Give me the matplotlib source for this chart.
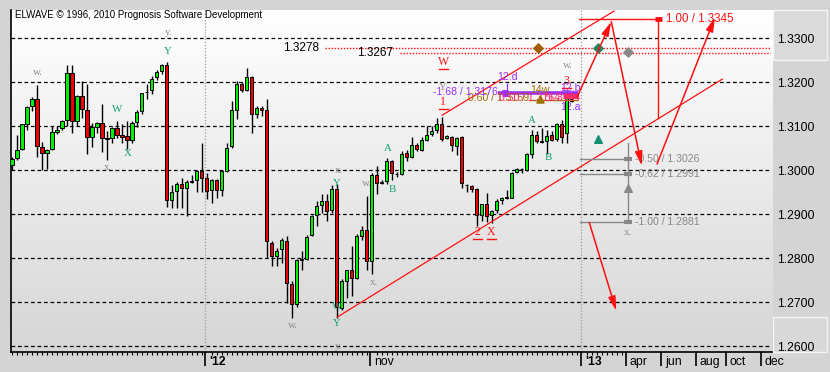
import numpy as np
import matplotlib
matplotlib.use('Agg')
import matplotlib.pyplot as plt
from matplotlib.colors import LinearSegmentedColormap
from matplotlib.patches import Rectangle
from matplotlib.transforms import offset_copy

# ---------------- data (daily candles, index units) ----------------
opens = [1.3011, 1.3027, 1.3048, 1.3105, 1.3145, 1.3163, 1.3053, 1.3040, 1.3048, 1.3087,
         1.3095, 1.3115, 1.3221, 1.3113, 1.3169, 1.3138, 1.3076, 1.3099, 1.3108, 1.3074,
         1.3073, 1.3095, 1.3079, 1.3077, 1.3069, 1.3110, 1.3134, 1.3178, 1.3182, 1.3211,
         1.3226, 1.3239, 1.2932, 1.2953, 1.2969, 1.2959, 1.2974, 1.2978, 1.2999, 1.2982,
         1.2954, 1.2977, 1.2954, 1.2999, 1.3054, 1.3138, 1.3195, 1.3183, 1.3211, 1.3127,
         1.3142, 1.3136, 1.2835, 1.2805, 1.2820, 1.2840, 1.2740, 1.2695, 1.2798, 1.2797,
         1.2852, 1.2898, 1.2920, 1.2931, 1.2909, 1.2958, 1.2687, 1.2749, 1.2772, 1.2754,
         1.2850, 1.2865, 1.2793, 1.2990, 1.2970, 1.2976, 1.3020, 1.2991, 1.2991, 1.3039,
         1.3031, 1.3058, 1.3047, 1.3069, 1.3082, 1.3092, 1.3105, 1.3073, 1.3075, 1.3054,
         1.3075, 1.2967, 1.2965, 1.2957, 1.2898, 1.2924, 1.2898, 1.2909, 1.2932, 1.2936,
         1.2937, 1.2995, 1.3003, 1.3001, 1.3037, 1.3079, 1.3067, 1.3067, 1.3079, 1.3072,
         1.3106, 1.3085, 1.3157]
highs = [1.3031, 1.3081, 1.3105, 1.3146, 1.3166, 1.3194, 1.3063, 1.3049, 1.3100, 1.3100,
         1.3115, 1.3240, 1.3240, 1.3170, 1.3203, 1.3197, 1.3108, 1.3110, 1.3150, 1.3090,
         1.3098, 1.3113, 1.3105, 1.3111, 1.3113, 1.3138, 1.3176, 1.3195, 1.3215, 1.3227,
         1.3241, 1.3247, 1.2966, 1.2973, 1.2983, 1.2978, 1.2989, 1.3001, 1.3062, 1.2993,
         1.2979, 1.2979, 1.3000, 1.3062, 1.3158, 1.3202, 1.3201, 1.3233, 1.3214, 1.3145,
         1.3145, 1.3163, 1.2839, 1.2823, 1.2846, 1.2850, 1.2748, 1.2797, 1.2817, 1.2852,
         1.2898, 1.2931, 1.2945, 1.2945, 1.2967, 1.2969, 1.2752, 1.2774, 1.2827, 1.2854,
         1.2873, 1.2941, 1.2994, 1.3009, 1.2978, 1.3027, 1.3024, 1.2997, 1.3044, 1.3047,
         1.3075, 1.3062, 1.3075, 1.3100, 1.3100, 1.3119, 1.3121, 1.3079, 1.3077, 1.3075,
         1.3077, 1.2969, 1.2966, 1.2959, 1.2924, 1.2947, 1.2909, 1.2934, 1.2940, 1.2955,
         1.2997, 1.3006, 1.3006, 1.3039, 1.3092, 1.3089, 1.3096, 1.3092, 1.3089, 1.3108,
         1.3115, 1.3180, 1.3165]
lows = [1.3001, 1.3024, 1.3047, 1.3092, 1.3134, 1.3030, 1.3001, 1.3003, 1.3047, 1.3082,
        1.3092, 1.3100, 1.3085, 1.3100, 1.3119, 1.3037, 1.3052, 1.3085, 1.3041, 1.3024,
        1.3062, 1.3073, 1.3062, 1.3048, 1.3062, 1.3098, 1.3127, 1.3163, 1.3173, 1.3205,
        1.3218, 1.2917, 1.2913, 1.2913, 1.2913, 1.2896, 1.2970, 1.2951, 1.2951, 1.2934,
        1.2926, 1.2937, 1.2941, 1.2996, 1.3051, 1.3117, 1.3178, 1.3180, 1.3085, 1.3119,
        1.3123, 1.2801, 1.2782, 1.2782, 1.2789, 1.2698, 1.2664, 1.2689, 1.2772, 1.2795,
        1.2850, 1.2873, 1.2903, 1.2884, 1.2903, 1.2663, 1.2681, 1.2710, 1.2714, 1.2752,
        1.2842, 1.2774, 1.2764, 1.2945, 1.2968, 1.2968, 1.2978, 1.2985, 1.2989, 1.3020,
        1.3027, 1.3044, 1.3044, 1.3066, 1.3077, 1.3085, 1.3067, 1.3071, 1.3043, 1.3035,
        1.2960, 1.2950, 1.2950, 1.2873, 1.2884, 1.2882, 1.2879, 1.2902, 1.2924, 1.2934,
        1.2936, 1.2993, 1.2993, 1.2998, 1.3027, 1.3062, 1.3062, 1.3037, 1.3066, 1.3066,
        1.3062, 1.3062, 1.3155]
closes = [1.3026, 1.3047, 1.3104, 1.3144, 1.3163, 1.3056, 1.3040, 1.3047, 1.3086, 1.3092,
          1.3113, 1.3221, 1.3113, 1.3169, 1.3140, 1.3076, 1.3098, 1.3108, 1.3073, 1.3072,
          1.3095, 1.3079, 1.3076, 1.3069, 1.3108, 1.3132, 1.3175, 1.3178, 1.3208, 1.3224,
          1.3239, 1.2932, 1.2950, 1.2969, 1.2959, 1.2973, 1.2976, 1.2998, 1.2982, 1.2953,
          1.2977, 1.2954, 1.2998, 1.3051, 1.3136, 1.3195, 1.3183, 1.3211, 1.3127, 1.3142,
          1.3138, 1.2839, 1.2805, 1.2817, 1.2842, 1.2744, 1.2695, 1.2795, 1.2795, 1.2848,
          1.2895, 1.2918, 1.2931, 1.2908, 1.2958, 1.2689, 1.2748, 1.2772, 1.2754, 1.2850,
          1.2865, 1.2793, 1.2990, 1.2971, 1.2974, 1.3021, 1.2993, 1.2991, 1.3037, 1.3029,
          1.3058, 1.3049, 1.3069, 1.3081, 1.3090, 1.3104, 1.3072, 1.3077, 1.3058, 1.3073,
          1.2970, 1.2966, 1.2957, 1.2898, 1.2922, 1.2896, 1.2907, 1.2930, 1.2937, 1.2938,
          1.2993, 1.3003, 1.3003, 1.3037, 1.3079, 1.3066, 1.3065, 1.3077, 1.3069, 1.3104,
          1.3075, 1.3173, 1.3161]

price_ticks = [1.2600, 1.2700, 1.2800, 1.2900, 1.3000, 1.3100, 1.3200, 1.3300]
time_tick_pos = [38.66, 71.72, 113.8, 122.8, 129.8, 136.8, 142.8, 149.8]
time_tick_labels = ["'12", "nov", "'13", "apr", "jun", "aug", "oct", "dec"]
time_tick_bold = [True, False, True, False, False, False, False, False]
period_lines = [38.66, 113.8]

# channel lines (x, price)
chan_lower_x = [65.1, 142.1]
chan_lower_y = [1.2666, 1.3207]
chan_upper_x = [86.06, 120.46]
chan_upper_y = [1.3125, 1.3362]

# target levels (red dotted)
target_levels = [1.3278, 1.3267]
target_starts = [62.7, 77.7]
target_label_x = [54.2, 69.1]

# forecast arrows: (x0, y0, x1, y1)
fc_x0 = [113.06, 119.9, 129.06, 115.5]
fc_y0 = [1.3166, 1.3338, 1.3014, 1.2881]
fc_x1 = [119.9, 126.0, 140.66, 120.9]
fc_y1 = [1.3338, 1.3010, 1.3348, 1.2680]

# red 1.00 level
red_level = 1.3345
red_level_x = [113.5, 129.7]
red_vert_x = 129.3
red_vert_bottom = 1.3119

# grey projection levels
grey_levels = [1.3026, 1.2991, 1.2881]
grey_ratios = ["-0.50", "-0.62", "-1.00"]
grey_x = [113.6, 123.26]
grey_vert_top = 1.3062

# wave labels
grey_lbl_x = [5.26, 19.26, 31.26, 65.46, 56.26, 65.26, 72.46, 71.06, 86.26, 111.26, 123.26]
grey_lbl_y = [1.3223, 1.3005, 1.3314, 1.3000, 1.2646, 1.2600, 1.2745, 1.2969, 1.3189, 1.3239, 1.2859]
grey_lbl_t = ["w.", "x.", "y.", "x.", "w.", "y.", "x.", "w.", "Y", "w.", "x."]

green_lbl_x = [21.06, 23.06, 31.26, 65.06, 65.06, 65.06, 75.26, 76.06, 104.06, 107.26]
green_lbl_y = [1.3137, 1.3039, 1.3269, 1.2969, 1.2689, 1.2652, 1.3050, 1.2957, 1.3112, 1.3028]
green_lbl_t = ["W", "X", "Y", "Y", "W", "Y", "A", "B", "A", "B"]

red_lbl_x = [86.26, 86.26, 93.06, 95.86, 110.86]
red_lbl_y = [1.3246, 1.3155, 1.2859, 1.2859, 1.3203]
red_lbl_t = ["W", "1", "2", "X", "3"]

# ---------------- figure ----------------
W, H = 830, 372
fig = plt.figure(figsize=(W / 100, H / 100), dpi=100, facecolor='#d4d4d4')
ax = fig.add_axes([11 / W, 20 / H, 761 / W, 342 / H])
xlim = (-0.2, 152.06)
ylim = (1.25864, 1.33644)

grad = LinearSegmentedColormap.from_list('g', ['#ffffff', '#d6d6d6'])
ax.imshow(np.linspace(0, 1, 256).reshape(-1, 1), cmap=grad, aspect='auto',
          extent=[xlim[0], xlim[1], ylim[0], ylim[1]], origin='upper', zorder=0)
ax.set_xlim(*xlim)
ax.set_ylim(*ylim)

for p in price_ticks:
    ax.axhline(p, color='black', lw=0.9, ls=(0, (3, 2.2)), zorder=1)
for xp in period_lines:
    ax.axvline(xp, color='#999999', lw=0.9, ls=(0, (1, 1.5)), zorder=1)

# candles
o = np.array(opens); h = np.array(highs); l = np.array(lows); c = np.array(closes)
idx = np.arange(len(o))
ax.vlines(idx, l, h, color='black', lw=1.0, zorder=3)
diff = c - o
cols = np.where(np.abs(diff) < 0.00005, 'black', np.where(diff > 0, '#00ee00', '#ee0000'))
ax.bar(idx, np.maximum(np.abs(diff), 0.00008), bottom=np.minimum(o, c), width=0.62,
       color=cols, edgecolor='black', linewidth=0.7, zorder=4)

red = '#ff1010'
ax.plot(chan_lower_x, chan_lower_y, color=red, lw=0.9, zorder=5)
ax.plot(chan_upper_x, chan_upper_y, color=red, lw=0.9, zorder=5)

for lv, xs, lx in zip(target_levels, target_starts, target_label_x):
    ax.plot([xs, 151.7], [lv, lv], color=red, lw=1.0, ls=(0, (1, 1.2)), zorder=2)
    ax.text(lx, lv, f'{lv:.4f}', fontsize=8.5, family='Liberation Sans', va='center', ha='left', zorder=6)

# diamonds / triangles
ax.scatter([105.3], [1.3278], marker='D', s=22, color='#a06000', zorder=7)
ax.scatter([117.26], [1.3278], marker='D', s=22, color='#208060', zorder=7)
ax.scatter([123.3], [1.3269], marker='D', s=22, color='#888888', zorder=7)
ax.scatter([117.26], [1.3071], marker='^', s=30, color='#109070', zorder=7)
ax.scatter([123.26], [1.2959], marker='^', s=30, color='#888888', zorder=7)

# grey projection
ax.plot([grey_x[1], grey_x[1]], [grey_levels[-1], grey_vert_top], color='#888888', lw=1.0, zorder=5)
for lv, r in zip(grey_levels, grey_ratios):
    ax.plot(grey_x, [lv, lv], color='#888888', lw=1.0, zorder=5)
    ax.plot([grey_x[1] - 0.8, grey_x[1] + 0.8], [lv, lv], color='#888888', lw=3, zorder=5,
            solid_capstyle='butt')
    ax.text(grey_x[1] + 1.3, lv, f'{r} / {lv:.4f}', fontsize=7.6, family='Liberation Sans',
            color='#888888', va='center', ha='left', zorder=6)

# red 1.00 level
ax.plot(red_level_x, [red_level, red_level], color=red, lw=1.0, zorder=5)
ax.plot([red_vert_x, red_vert_x], [red_vert_bottom, red_level], color=red, lw=1.0, zorder=5)
ax.plot([red_vert_x - 0.7, red_vert_x + 0.7], [red_level, red_level], color=red, lw=3.5,
        solid_capstyle='butt', zorder=5)
ax.text(red_vert_x + 1.6, red_level, f'1.00 / {red_level:.4f}', fontsize=8.3,
        family='Liberation Sans', color=red, va='center', ha='left', zorder=6)

# forecast arrows
for x0, y0, x1, y1 in zip(fc_x0, fc_y0, fc_x1, fc_y1):
    ax.annotate('', xy=(x1, y1), xytext=(x0, y0),
                arrowprops=dict(arrowstyle='-|>,head_length=0.85,head_width=0.22',
                                color=red, lw=1.1, shrinkA=0, shrinkB=0, mutation_scale=10),
                zorder=8)

# purple / brown fib cluster near the end
purple = '#9a30ff'
brown = '#a07000'
pink = '#ff2a6a'
ax.plot([97.3, 113.2], [1.3176, 1.3176], color=purple, lw=2.6, zorder=6, solid_capstyle='butt')
ax.plot([98.1, 99.3], [1.3176, 1.3176], color=purple, lw=5, zorder=6, solid_capstyle='butt')
ax.plot([99.06, 99.06], [1.3176, 1.3196], color=purple, lw=0.9, zorder=6)
ax.plot([103.5, 113.0], [1.3159, 1.3159], color=brown, lw=1.0, zorder=6)
ax.plot([110.3, 113.2], [1.3169, 1.3169], color=pink, lw=3.5, zorder=6, solid_capstyle='butt')
ax.scatter([105.66], [1.3162], marker='^', s=26, color=brown, zorder=7)
ax.text(97.3, 1.3178, '-1.68 / 1.3176', fontsize=7.6, family='Liberation Sans', color=purple,
        va='center', ha='right', zorder=7)
ax.text(91.26, 1.3164, '0.60 / 1.3159', fontsize=7.6, family='Liberation Sans', color=brown,
        va='center', ha='left', zorder=6)
ax.text(97.5, 1.3164, '0.50 / 1.3164', fontsize=7.6, family='Liberation Sans', color=pink,
        va='center', ha='left', zorder=6)
ax.text(106.7, 1.3165, '*1.3154', fontsize=7.6, family='Liberation Sans', color=pink,
        va='center', ha='left', zorder=6)
ax.text(103.6, 1.3182, '14w', fontsize=7.6, family='Liberation Sans', color=brown,
        va='center', ha='left', zorder=6)
ax.text(99.06, 1.3211, '12.d', fontsize=7.6, family='Liberation Sans', color=purple,
        va='center', ha='center', zorder=7)
ax.text(111.66, 1.3187, '12.b', fontsize=7.6, family='Liberation Sans', color=purple,
        va='center', ha='center', zorder=7)
ax.text(111.66, 1.3144, '12.a', fontsize=7.6, family='Liberation Sans', color=purple,
        va='center', ha='center', zorder=2)

# wave labels
for x, y, t in zip(grey_lbl_x, grey_lbl_y, grey_lbl_t):
    ax.text(x, y, t, fontsize=7.8, family='Liberation Serif', color='#8c8c8c',
            ha='center', va='center', zorder=6)
for x, y, t in zip(green_lbl_x, green_lbl_y, green_lbl_t):
    ax.text(x, y, t, fontsize=7.8, family='Liberation Serif', color='#10a070',
            ha='center', va='center', zorder=6)
under_tr = offset_copy(ax.transData, fig=fig, x=0, y=-5, units='points')
for x, y, t in zip(red_lbl_x, red_lbl_y, red_lbl_t):
    ax.text(x, y, t, fontsize=8.5, family='Liberation Serif', color=red,
            ha='center', va='center', zorder=6)
    ax.plot([x - 0.9, x + 0.9], [y, y], color=red, lw=1.0, transform=under_tr, zorder=6)

# axes styling
for s in ['top', 'right']:
    ax.spines[s].set_visible(False)
ax.spines['left'].set_linewidth(1.2)
ax.spines['bottom'].set_linewidth(1.2)

ax.yaxis.tick_right()
ax.set_yticks(price_ticks)
ax.set_yticklabels([f'{p:.4f}' for p in price_ticks], fontsize=8.8, family='Liberation Sans')
ax.tick_params(axis='y', length=0, pad=3.5)

minor = [i for i in range(0, 123) if all(abs(i - t) > 0.6 for t in time_tick_pos)]
ax.set_xticks(time_tick_pos)
ax.set_xticklabels([''] * len(time_tick_pos))
ax.set_xticks(minor, minor=True)
ax.tick_params(axis='x', which='major', length=10, width=1.2, direction='out', color='black')
ax.tick_params(axis='x', which='minor', length=2.2, width=0.8, direction='out', color='black')
for pos, lab, b in zip(time_tick_pos, time_tick_labels, time_tick_bold):
    ax.annotate(lab, xy=(pos, 0), xycoords=('data', 'axes fraction'), xytext=(3, -7),
                textcoords='offset points', fontsize=8.8, family='Liberation Sans',
                fontweight='bold' if b else 'normal', ha='left', va='center',
                annotation_clip=False)

# right panel boxes
fig.patches.append(Rectangle((773 / W, 1 - 60 / H), 54 / W, 50 / H, transform=fig.transFigure,
                             facecolor='#dadada', edgecolor='#f4f4f4', lw=1.0))
fig.patches.append(Rectangle((773 / W, 1 - 352 / H), 54 / W, 35 / H, transform=fig.transFigure,
                             facecolor='#d8d8d8', edgecolor='#f4f4f4', lw=1.0))
ax.set_zorder(2)

fig.text(15 / W, 1 - 15 / H, 'ELWAVE \u00a9 1996, 2010 Prognosis Software Development',
         fontsize=7, family='Liberation Sans', va='center', ha='left', zorder=10)

fig.savefig('out.png', dpi=100, facecolor=fig.get_facecolor())
